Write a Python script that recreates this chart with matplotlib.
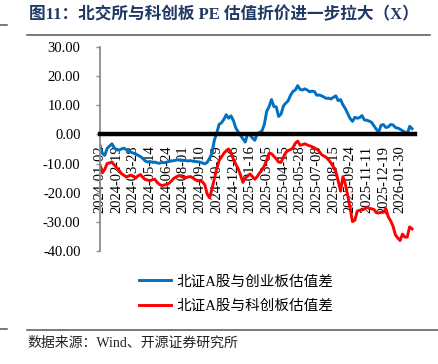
import matplotlib
matplotlib.use("Agg")
import matplotlib.pyplot as plt
from matplotlib.lines import Line2D
import numpy as np

plt.rcParams['font.family'] = ['Liberation Serif', 'Noto Sans CJK SC']
plt.rcParams['axes.unicode_minus'] = False

# trading-day index of each sample (one sample every 4 trading days from 2024-01-02)
day_idx = np.arange(0, 528, 4)

tick_labels = ['2024-01-02', '2024-02-19', '2024-03-28', '2024-05-14', '2024-06-24',
               '2024-08-01', '2024-09-10', '2024-10-29', '2024-12-06', '2025-01-16',
               '2025-03-05', '2025-04-15', '2025-05-28', '2025-07-08', '2025-08-15',
               '2025-09-24', '2025-11-11', '2025-12-19', '2026-01-30']
tick_step = 28  # trading days between labels

bse_vs_chinext = [
    -3.8, -6.5, -7.2, -4.8, -4.0, -3.2, -4.6, -5.3, -5.4, -5.0,
    -4.7, -5.2, -5.8, -6.1, -6.4, -6.7, -7.2, -7.6, -8.3, -9.1,
    -9.5, -9.3, -9.6, -9.5, -9.8, -9.9, -9.6, -9.7, -9.5, -9.3,
    -9.1, -9.0, -8.8, -8.7, -8.8, -8.9, -9.0, -9.1, -9.0, -9.2,
    -9.3, -9.4, -9.5, -9.8, -10.1, -9.6, -8.2, -6.5, -2.0, 0.5,
    3.5, 4.0, 5.2, 6.8, 5.6, 6.4, 4.8, 2.3, 0.9, -0.3,
    -1.5, -2.6, 0.3, -0.2, -1.2, -2.0, 0.3, 0.7, 1.2, 3.5,
    8.0, 9.6, 12.0, 9.6, 9.5, 6.2, 7.0, 9.8, 10.8, 11.6,
    13.5, 14.8, 15.3, 16.8, 15.5, 15.3, 15.7, 15.3, 14.7, 14.9,
    14.8, 13.5, 13.6, 13.3, 12.9, 12.4, 12.5, 12.2, 12.8, 13.3,
    11.6, 12.0, 10.2, 8.9, 7.2, 5.5, 4.5, 5.9, 5.6, 5.8,
    6.5, 5.0, 4.9, 4.6, 4.2, 3.0, 1.8, 0.8, 3.2, 3.4,
    2.4, 2.6, 3.4, 3.3, 2.4, 2.2, 1.8, 1.3, 0.8, 0.2,
    2.8, 2.0,
]

bse_vs_star = [
    -10.5, -13.2, -12.0, -10.0, -9.8, -9.5, -10.5, -11.4, -12.3, -13.5,
    -14.0, -14.6, -14.3, -14.0, -14.5, -15.0, -14.2, -13.8, -14.8, -15.5,
    -15.7, -15.9, -15.6, -15.4, -16.5, -17.2, -17.6, -17.4, -17.2, -16.8,
    -16.0, -15.1, -14.6, -14.2, -14.3, -14.8, -14.9, -14.6, -14.5, -15.0,
    -15.5, -16.0, -15.9, -16.3, -17.3, -20.5, -21.8, -18.8, -15.2, -11.8,
    -9.0, -7.7, -6.5, -5.6, -5.0, -6.3, -8.5, -10.2, -11.8, -14.0,
    -16.5, -15.0, -14.3, -13.6, -14.5, -15.4, -14.5, -13.2, -12.3, -10.8,
    -8.8, -6.5, -6.6, -7.5, -8.4, -9.5, -9.6, -7.8, -6.2, -5.5,
    -5.2, -4.6, -3.0, -2.3, -3.7, -3.5, -3.2, -3.6, -3.9, -4.2,
    -4.6, -5.1, -5.8, -6.9, -7.4, -7.9, -8.8, -9.8, -11.2, -12.8,
    -16.0, -19.5, -14.5, -17.0, -21.0, -25.3, -30.0, -29.5, -26.4, -26.1,
    -26.0, -25.7, -25.0, -25.4, -25.6, -25.8, -26.9, -27.0, -26.8, -26.8,
    -25.5, -28.3, -29.7, -31.5, -34.5, -35.6, -36.5, -34.3, -35.3, -35.3,
    -31.8, -32.5,
]

series_names = ['北证A股与创业板估值差', '北证A股与科创板估值差']

W, H = 439, 364
fig = plt.figure(figsize=(W / 100, H / 100), dpi=100)
ax = fig.add_axes([100 / W, 1 - 250.7 / H, 315 / W, 203.4 / H])

# spine position first: moving it resets the tick styling
ax.spines['top'].set_visible(False)
ax.spines['right'].set_visible(False)
ax.spines['bottom'].set_position(('data', 0))
ax.spines['bottom'].set_linewidth(3.2)
ax.spines['bottom'].set_color('black')
ax.spines['left'].set_color('#8c8c8c')
ax.spines['left'].set_linewidth(1.3)

l1, = ax.plot(day_idx, bse_vs_chinext, color='#0070C0', lw=2.1, label=series_names[0])
l2, = ax.plot(day_idx, bse_vs_star, color='#FF0000', lw=2.1, label=series_names[1])

ax.set_xlim(0, 529)
ax.set_ylim(-40, 30)
ax.set_yticks(np.arange(-40, 31, 10))
ax.set_yticklabels([f'{v:.2f}' for v in np.arange(-40, 31, 10)])
ax.set_xticks(np.arange(len(tick_labels)) * tick_step)
ax.set_xticklabels(tick_labels)

ax.tick_params(axis='x', length=0, pad=8, labelsize=10.5, labelrotation=90)
ax.tick_params(axis='y', length=3, width=1, color='#8c8c8c', pad=11, labelsize=10.5)

fig.legend(handles=[l1, l2], loc='center', bbox_to_anchor=(236 / W, 1 - 294 / H),
           frameon=False, fontsize=10.5, handlelength=2.2, handletextpad=0.35,
           labelspacing=0.75)

fig.text(29 / W, 1 - 15 / H, '图11：北交所与科创板 PE 估值折价进一步拉大（X）',
         fontsize=12, fontweight='bold', color='#1F3864', ha='left', va='center')
fig.text(27 / W, 1 - 343 / H, '数据来源：Wind、开源证券研究所',
         fontsize=10, color='#222222', ha='left', va='center')

for x0, x1, y in [(27, 430, 35), (0, 7, 25), (27, 439, 330), (0, 7, 329)]:
    fig.add_artist(Line2D([x0 / W, x1 / W], [1 - y / H] * 2, color='#555555', lw=1.1))

fig.savefig('out.png', dpi=100)
